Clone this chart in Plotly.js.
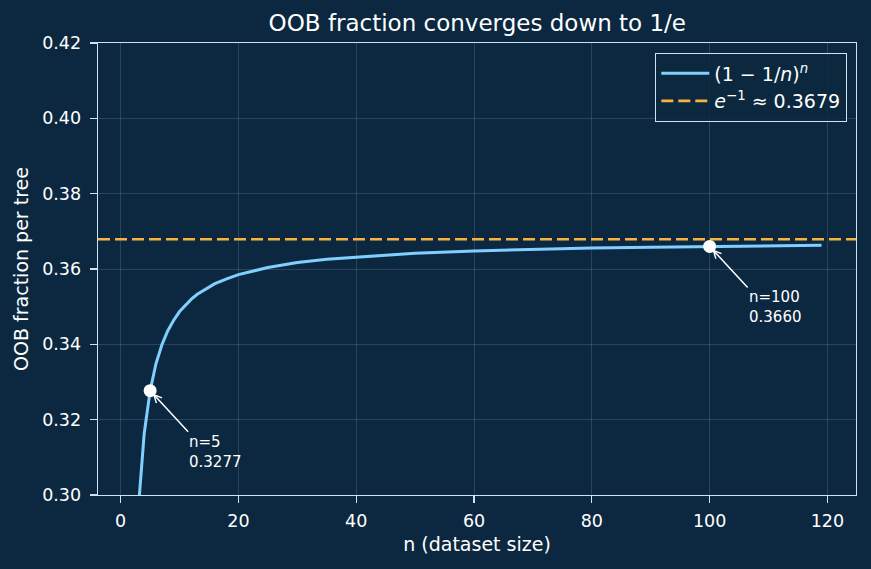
<!DOCTYPE html>
<html>
<head>
<meta charset="utf-8">
<script src="https://cdn.plot.ly/plotly-3.0.1.min.js"></script>
<style>html,body{margin:0;padding:0;background:#0c2840;}#chart{width:871px;height:569px;}</style>
</head>
<body>
<div id="chart"></div>
<script>
// dataset size n and OOB fraction (1-1/n)^n
const nValues = [2,3,4,5,6,7,8,9,10,11,12,13,14,15,16,18,20,25,30,35,40,45,50,60,70,80,90,100,110,119];
const oobValues = [0.2500,0.2963,0.3164,0.3277,0.3349,0.3399,0.3436,0.3464,0.3487,0.3505,0.3520,0.3533,0.3543,0.3553,0.3561,0.3574,0.3585,0.3604,0.3617,0.3626,0.3632,0.3638,0.3642,0.3648,0.3652,0.3656,0.3658,0.3660,0.3662,0.3663];
const limitValue = 0.3679;
const highlightN = [5, 100];
const highlightY = [0.3277, 0.3660];
const highlightLabels = ["n=5<br>0.3277", "n=100<br>0.3660"];
const xTicks = [0,20,40,60,80,100,120];
const yTicks = [0.30,0.32,0.34,0.36,0.38,0.40,0.42];

const xRange = [-3.85, 124.85];
const yRange = [0.30, 0.42];
const fg = '#ffffff';
const spine = '#cfe2ef';
const font = 'DejaVu Sans, sans-serif';

const traces = [
  {x: nValues, y: oobValues, type: 'scatter', mode: 'lines',
   line: {color: '#7fd0ff', width: 3}, name: '(1 − 1/<i>n</i>)<sup><i>n</i></sup>'},
  {x: xRange, y: [limitValue, limitValue], type: 'scatter', mode: 'lines',
   line: {color: '#f5b342', width: 2.6, dash: '12px,5px'}, name: '<i>e</i><sup>−1</sup> ≈ 0.3679'},
  {x: highlightN, y: highlightY, type: 'scatter', mode: 'markers',
   marker: {color: '#ffffff', size: 13}, showlegend: false, cliponaxis: false}
];

const annotations = highlightN.map((n, i) => ({
  x: n, y: highlightY[i], xref: 'x', yref: 'y', text: highlightLabels[i],
  showarrow: true, ax: 38, ay: 41, arrowcolor: '#ffffff', arrowwidth: 1.5, arrowhead: 5, arrowsize: 1, standoff: 4,
  xanchor: 'left', yanchor: 'top', align: 'left', borderpad: 0,
  font: {family: font, size: 15, color: fg}
}));

const axisCommon = {
  showline: true, mirror: true, linecolor: spine, linewidth: 1.4,
  ticks: 'outside', ticklen: 7, tickwidth: 1.3, tickcolor: spine,
  gridcolor: 'rgba(200,220,235,0.2)', gridwidth: 0.8, zeroline: false,
  tickfont: {family: font, size: 17.5, color: fg}
};

const layout = {
  width: 871, height: 569,
  paper_bgcolor: '#0c2840', plot_bgcolor: '#0c2840',
  margin: {l: 98, r: 15, t: 43, b: 74},
  title: {text: 'OOB fraction converges down to 1/e', font: {family: font, size: 23, color: fg},
          x: 0.548, xanchor: 'center', y: 0.96, yanchor: 'middle'},
  xaxis: Object.assign({}, axisCommon, {range: xRange, tickvals: xTicks, ticklabelstandoff: 3,
          title: {text: 'n (dataset size)', font: {family: font, size: 19, color: fg}, standoff: 7}}),
  yaxis: Object.assign({}, axisCommon, {range: yRange, tickvals: yTicks, tickformat: '.2f', ticklabelstandoff: 5,
          title: {text: 'OOB fraction per tree', font: {family: font, size: 19, color: fg}, standoff: 8}}),
  legend: {x: 0.988, y: 0.978, xanchor: 'right', yanchor: 'top', itemwidth: 48,
           bgcolor: 'rgba(12,40,64,0.85)', bordercolor: spine, borderwidth: 1.4,
           font: {family: font, size: 19, color: fg}},
  annotations: annotations,
  showlegend: true
};

Plotly.newPlot('chart', traces, layout, {displayModeBar: false, staticPlot: true});
</script>
</body>
</html>
